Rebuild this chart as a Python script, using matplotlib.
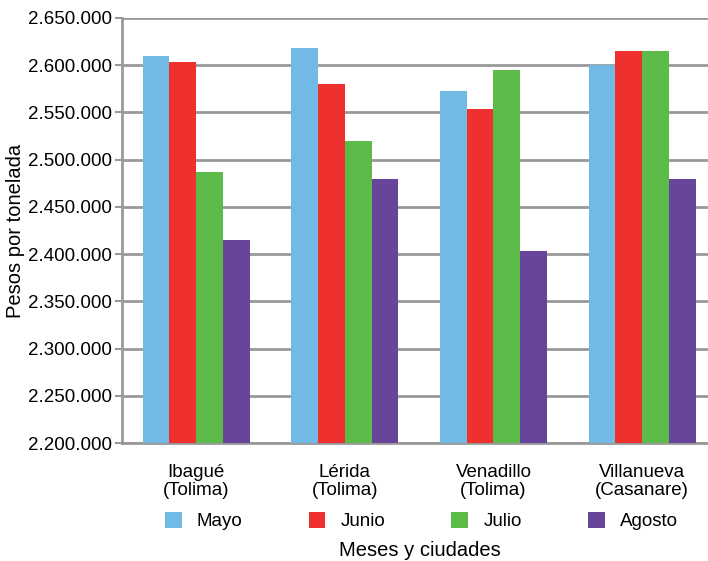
import matplotlib.pyplot as plt
import numpy as np

plt.rcParams['font.family'] = ['Liberation Sans', 'DejaVu Sans']

ciudades = ['Ibagué\n(Tolima)', 'Lérida\n(Tolima)', 'Venadillo\n(Tolima)', 'Villanueva\n(Casanare)']
meses = ['Mayo', 'Junio', 'Julio', 'Agosto']
mayo = [2610000, 2618000, 2573000, 2600000]
junio = [2603000, 2580000, 2554000, 2615000]
julio = [2487000, 2520000, 2595000, 2615000]
agosto = [2415000, 2480000, 2403000, 2480000]
colores = ['#72BAE6', '#EE302E', '#5DBB4A', '#66459B']

fig = plt.figure(figsize=(7.08, 5.61), dpi=100)
ax = fig.add_axes([0.172, 0.21, 0.84, 0.758])

x = np.arange(len(ciudades))
w = 0.18
series = [mayo, junio, julio, agosto]
for i, (vals, nombre) in enumerate(zip(series, meses)):
    ax.bar(x + (i - 1.5) * w, vals, width=w, color=colores[i], label=nombre, zorder=3)

ax.set_ylim(2200000, 2650000)
ax.set_xlim(-0.5, 3.5)
ticks = np.arange(2200000, 2650001, 50000)
ax.set_yticks(ticks)
ax.set_yticklabels(['{:,}'.format(t).replace(',', '.') for t in ticks], fontsize=13.5)
ax.set_xticks(x)
ax.set_xticklabels(ciudades, fontsize=13.5, linespacing=1.1)
ax.tick_params(axis='x', length=0, pad=15)
ax.tick_params(axis='y', length=5, width=1.5, color='#999999', pad=2)
ax.grid(axis='y', color='#999999', linewidth=2, zorder=0)

for s in ['top', 'right']:
    ax.spines[s].set_visible(False)
for s in ['left', 'bottom']:
    ax.spines[s].set_color('#999999')
    ax.spines[s].set_linewidth(2)

ax.set_ylabel('Pesos por tonelada', fontsize=14.5, labelpad=2)
fig.text(0.593, 0.018, 'Meses y ciudades', fontsize=14.5, ha='center', va='center')

fig.legend(loc='center', bbox_to_anchor=(0.209, 0.031, 0.772, 0.08), mode='expand', ncol=4,
           frameon=False, fontsize=13.5, handlelength=0.9, handleheight=0.9, handletextpad=0.8)

plt.savefig('out.png', dpi=100)
